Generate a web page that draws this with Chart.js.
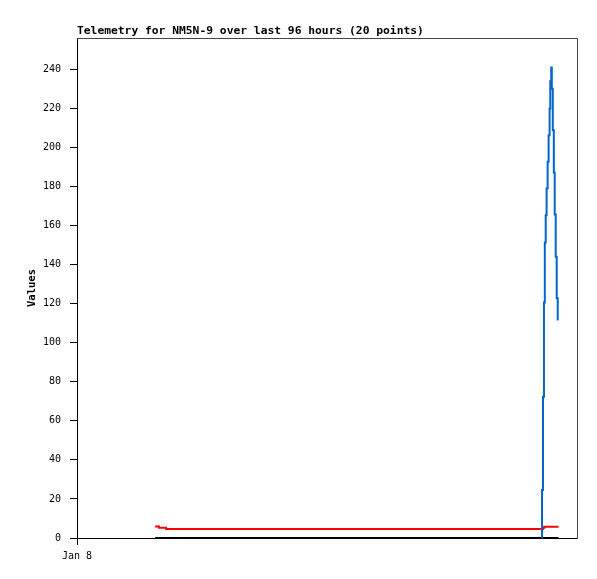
<!DOCTYPE html>
<html>
<head>
<meta charset="utf-8">
<title>Telemetry for NM5N-9</title>
<script src="https://cdn.jsdelivr.net/npm/chart.js@4"></script>
<style>
  html, body { margin: 0; padding: 0; background: #fff; }
  #wrap { width: 597px; height: 579px; }
</style>
</head>
<body>
<div id="wrap"><canvas id="chart" width="597" height="579"></canvas></div>
<script>
// hours since Jan 8 00:00, and the values
const chartTitle = 'Telemetry for NM5N-9 over last 96 hours (20 points)';
const xTickLabels = { 0: 'Jan 8' };
const yTicks = [0, 20, 40, 60, 80, 100, 120, 140, 160, 180, 200, 220, 240];

const blueHours  = [89.18, 89.28, 89.47, 89.66, 89.82, 89.99, 90.16, 90.36, 90.55, 90.74,
                    90.87, 91.05, 91.16, 91.35, 91.55, 91.72, 91.91, 92.10, 92.30, 92.45];
const blueValues = [0, 24.6, 72.3, 120.6, 151.3, 165.3, 179, 192.6, 206.2, 219.9,
                    233.9, 240.9, 230, 208.8, 187.1, 165.6, 144, 122.7, 111.9, 111.9];

const redHours  = [15.0, 15.74, 17.09, 89.47, 89.72, 92.45];
const redValues = [5.9, 5.2, 4.6, 5.2, 5.8, 5.8];

const blackHours  = [15.0, 92.45];
const blackValues = [0, 0];

const toPoints = (xs, ys) => xs.map((x, i) => ({ x: x, y: ys[i] }));

const mono = '"DejaVu Sans Mono", "Liberation Mono", monospace';

// title above the plot, left aligned to the frame, plus top/right edges of the frame
const framePlugin = {
    id: 'frame',
    afterDraw: (chart) => {
        const { ctx, chartArea: a } = chart;
        const l = Math.round(a.left), r = Math.round(a.right), t = Math.round(a.top), b = Math.round(a.bottom);
        ctx.save();
        ctx.fillStyle = '#444';
        ctx.fillRect(l, t, r - l, 1);       // top
        ctx.fillRect(r, t, 1, b - t + 1);   // right
        ctx.fillStyle = '#000';
        ctx.font = 'bold 11.3px ' + mono;
        ctx.textBaseline = 'alphabetic';
        ctx.textAlign = 'left';
        ctx.fillText(chartTitle, a.left, a.top - 4);
        ctx.restore();
    }
};

const line = (data, color, order) => ({
    data: data,
    borderColor: color,
    borderWidth: 2,
    pointRadius: 0,
    stepped: true,
    fill: false,
    order: order
});

new Chart(document.getElementById('chart'), {
    type: 'line',
    data: {
        datasets: [
            line(toPoints(blueHours, blueValues), '#0066cc', 0),
            line(toPoints(blackHours, blackValues), '#000000', 1),
            line(toPoints(redHours, redValues), '#ff0000', 2)
        ]
    },
    plugins: [framePlugin],
    options: {
        responsive: false,
        animation: false,
        layout: { padding: { top: 38, right: 20, left: 0, bottom: 0 } },
        plugins: { legend: { display: false }, tooltip: { enabled: false } },
        scales: {
            x: {
                type: 'linear',
                min: 0,
                max: 96,
                afterBuildTicks: s => { s.ticks = Object.keys(xTickLabels).map(v => ({ value: +v })); },
                afterFit: s => { s.height = 41; },
                ticks: {
                    autoSkip: false,
                    maxRotation: 0,
                    padding: 5,
                    color: '#000',
                    font: { family: mono, size: 10 },
                    callback: v => xTickLabels[v] || ''
                },
                grid: { drawOnChartArea: false, drawTicks: true, tickLength: 7, color: '#000' },
                border: { display: true, color: '#000' }
            },
            y: {
                min: 0,
                max: 256,
                afterBuildTicks: s => { s.ticks = yTicks.map(v => ({ value: v })); },
                afterFit: s => { s.width = 77; },
                ticks: {
                    padding: 9,
                    color: '#000',
                    font: { family: mono, size: 10 }
                },
                grid: { drawOnChartArea: false, drawTicks: true, tickLength: 7, color: '#000' },
                border: { display: true, color: '#000' },
                title: {
                    display: true,
                    text: 'Values',
                    color: '#000',
                    font: { family: mono, size: 10.5, weight: 'bold' },
                    padding: { top: 26, bottom: 0 }
                }
            }
        }
    }
});
</script>
</body>
</html>
